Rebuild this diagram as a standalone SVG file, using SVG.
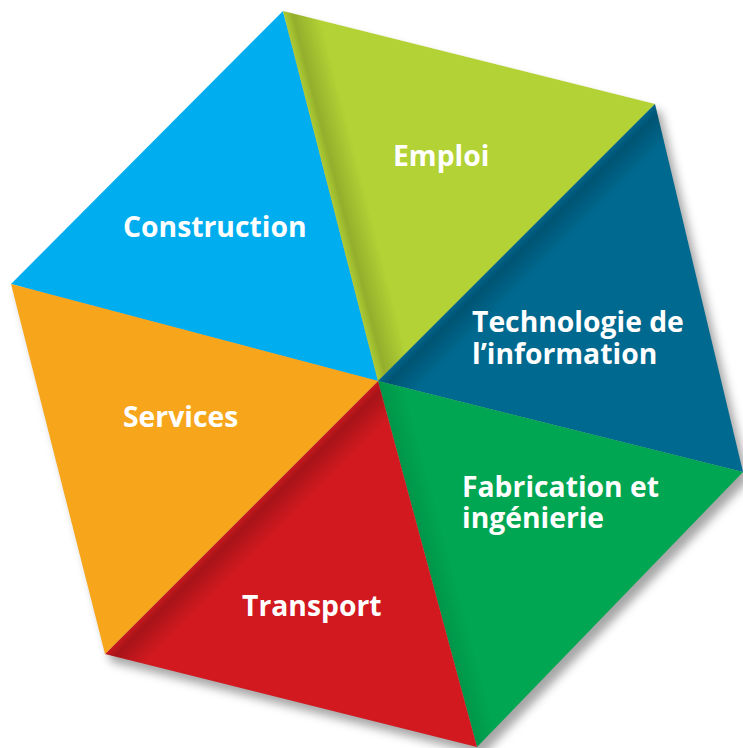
<svg xmlns="http://www.w3.org/2000/svg" width="743" height="748" viewBox="0 0 743 748">
<defs>
<style>
.lbl{font-family:"Open Sans","Liberation Sans",Arial,sans-serif;font-weight:700;font-size:28.3px;fill:#ffffff}
</style>
<filter id="sh" x="-10%" y="-10%" width="130%" height="130%">
<feGaussianBlur stdDeviation="5"/>
</filter>
<linearGradient id="gLime" gradientUnits="userSpaceOnUse" x1="330.5" y1="196" x2="364" y2="187.4">
<stop offset="0" stop-color="#000" stop-opacity="0.03"/>
<stop offset="0.25" stop-color="#000" stop-opacity="0.17"/>
<stop offset="1" stop-color="#000" stop-opacity="0"/>
</linearGradient>
<linearGradient id="gBlue" gradientUnits="userSpaceOnUse" x1="516.5" y1="242.5" x2="541" y2="267">
<stop offset="0" stop-color="#000" stop-opacity="0.05"/>
<stop offset="0.25" stop-color="#000" stop-opacity="0.2"/>
<stop offset="1" stop-color="#000" stop-opacity="0"/>
</linearGradient>
<linearGradient id="gRed" gradientUnits="userSpaceOnUse" x1="241.5" y1="517.5" x2="266" y2="542">
<stop offset="0" stop-color="#000" stop-opacity="0.05"/>
<stop offset="0.25" stop-color="#000" stop-opacity="0.2"/>
<stop offset="1" stop-color="#000" stop-opacity="0"/>
</linearGradient>
<linearGradient id="gGreen" gradientUnits="userSpaceOnUse" x1="427.5" y1="564" x2="450" y2="558">
<stop offset="0" stop-color="#000" stop-opacity="0.1"/>
<stop offset="1" stop-color="#000" stop-opacity="0"/>
</linearGradient>
</defs>
<rect width="743" height="748" fill="#ffffff"/>
<polygon points="283,11 655,104 743,472 477,747 105,654 11,284" transform="translate(6,8)" fill="#000" fill-opacity="0.35" filter="url(#sh)"/>
<g id="construction">
<polygon points="378,381 11,284 283,11" fill="#00AEEF"/>
<text class="lbl" x="123" y="237">Construction</text>
</g>
<g id="emploi">
<polygon points="378,381 283,11 655,104" fill="#B2D235"/>
<polygon points="378,381 283,11 655,104" fill="url(#gLime)"/>
<text class="lbl" x="393" y="166">Emploi</text>
</g>
<g id="technologie">
<polygon points="378,381 655,104 743,472" fill="#00698F"/>
<polygon points="378,381 655,104 743,472" fill="url(#gBlue)"/>
<text class="lbl" x="472" y="332">Technologie de</text>
<text class="lbl" x="472" y="364">l’information</text>
</g>
<g id="fabrication">
<polygon points="378,381 743,472 477,747" fill="#00A651"/>
<polygon points="378,381 743,472 477,747" fill="url(#gGreen)"/>
<text class="lbl" x="462" y="497">Fabrication et</text>
<text class="lbl" x="462" y="528">ingénierie</text>
</g>
<g id="transport">
<polygon points="378,381 477,747 105,654" fill="#D1191F"/>
<polygon points="378,381 477,747 105,654" fill="url(#gRed)"/>
<text class="lbl" x="242" y="616">Transport</text>
</g>
<g id="services">
<polygon points="378,381 105,654 11,284" fill="#F7A61C"/>
<text class="lbl" x="123" y="427">Services</text>
</g>
<g id="connectors"/>
</svg>
